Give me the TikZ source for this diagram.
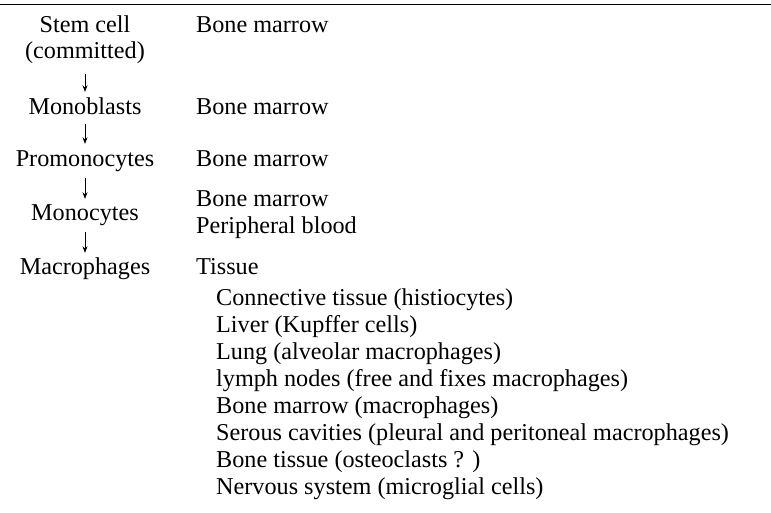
\documentclass[tikz,border=0pt]{standalone}
\usepackage{fontspec}
\setmainfont{Liberation Serif}
\usetikzlibrary{arrows.meta}
\begin{document}
\begin{tikzpicture}[x=1pt,y=-1pt,
  every node/.style={inner sep=0pt, font=\fontsize{24.2}{26.5}\selectfont},
  lab/.style={text height=17pt, text depth=5pt},
  loc/.style={lab, anchor=west},
  flow/.style={line width=0.8pt, -{Stealth[length=6.5pt,width=5pt]}}]
\useasboundingbox (0,0) rectangle (771,512);
\coordinate (ruleL) at (0,4.5);
\coordinate (ruleR) at (771,4.5);
\draw[line width=1.6pt] (ruleL) -- (ruleR);
% left column
\node[align=center, anchor=north] (stem) at (85,15.5) {Stem cell\\(committed)};
\node[lab] (monob) at (85,108) {Monoblasts};
\node[lab] (promo) at (85,160) {Promonocytes};
\node[lab] (monoc) at (85,214) {Monocytes};
\node[lab] (macro) at (85,268) {Macrophages};
\draw[flow, shorten <=10pt, shorten >=5pt] (stem) -- (monob);
\draw[flow, shorten <=5pt, shorten >=5pt] (monob) -- (promo);
\draw[flow, shorten <=7pt, shorten >=4pt] (promo) -- (monoc);
\draw[flow, shorten <=7pt, shorten >=4pt] (monoc) -- (macro);
% right column
\node[loc] (r1) at (196,26) {Bone marrow};
\node[loc] (r2) at (196,108) {Bone marrow};
\node[loc] (r3) at (196,160) {Bone marrow};
\node[loc] (r4) at (196,200) {Bone marrow};
\node[loc] (r5) at (196,227) {Peripheral blood};
\node[loc] (r6) at (196,268) {Tissue};
\node[loc] (t1) at (216,299) {Connective tissue (histiocytes)};
\node[loc] (t2) at (216,326) {Liver (Kupffer cells)};
\node[loc] (t3) at (216,353) {Lung (alveolar macrophages)};
\node[loc] (t4) at (216,380) {lymph nodes (free and fixes macrophages)};
\node[loc] (t5) at (216,407) {Bone marrow (macrophages)};
\node[loc] (t6) at (216,434) {Serous cavities (pleural and peritoneal macrophages)};
\node[loc] (t7) at (216,461) {Bone tissue (osteoclasts ? )};
\node[loc] (t8) at (216,488) {Nervous system (microglial cells)};
\end{tikzpicture}
\end{document}
